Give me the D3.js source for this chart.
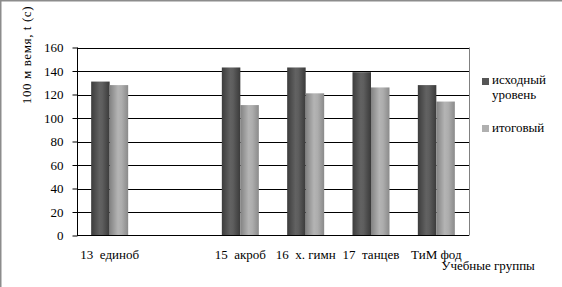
<!DOCTYPE html>
<html><head><meta charset="utf-8">
<script src="https://cdn.jsdelivr.net/npm/d3@7"></script>
<style>body{margin:0;background:#fff}svg{display:block}svg text{font-family:"Liberation Serif","Times New Roman",serif}</style>
</head><body>
<script>
const categories = ["13  единоб", "", "15  акроб", "16  х. гимн", "17  танцев", "ТиМ фод"];
const seriesNames = ["исходный уровень", "итоговый"];
const initialValues = [131, null, 143, 143, 139, 128];
const finalValues = [128, null, 111, 121, 126, 114];
const yTicks = [0, 20, 40, 60, 80, 100, 120, 140, 160];
const yTitle = "100 м вемя, t (с)";
const xTitle = "Учебные группы";

const W = 562, H = 287;
const svg = d3.select("body").append("svg").attr("width", W).attr("height", H);
const fs = 13;

const defs = svg.append("defs");
function grad(id, stops) {
  const g = defs.append("linearGradient").attr("id", id).attr("x1", "0").attr("x2", "1").attr("y1", "0").attr("y2", "0");
  stops.forEach(s => g.append("stop").attr("offset", s[0]).attr("stop-color", s[1]));
}
grad("gDark", [[0, "#3c3c3c"], [0.45, "#626262"], [0.6, "#5e5e5e"], [1, "#3a3a3a"]]);
grad("gLight", [[0, "#828282"], [0.45, "#b4b4b4"], [0.65, "#adadad"], [1, "#8a8a8a"]]);

// outer frame
svg.append("rect").attr("x", 0.5).attr("y", 0.5).attr("width", W + 5).attr("height", H + 5)
  .attr("fill", "none").attr("stroke", "#8c8c8c").attr("stroke-width", 2);

const pLeft = 77, pRight = 469, pTop = 47.5, pBottom = 235.5;
const x = d3.scaleBand().domain(d3.range(categories.length)).range([pLeft, pRight]);
const y = d3.scaleLinear().domain([0, 160]).range([pBottom, pTop]);
const barW = 18.5;

// gridlines
svg.append("g").selectAll("line").data(yTicks.filter(t => t > 0)).join("line")
  .attr("x1", pLeft).attr("x2", pRight)
  .attr("y1", d => Math.round(y(d)) + 0.5).attr("y2", d => Math.round(y(d)) + 0.5)
  .attr("stroke", "#000").attr("stroke-width", 1);

// right border
svg.append("line").attr("x1", pRight + 0.5).attr("x2", pRight + 0.5).attr("y1", pTop).attr("y2", pBottom)
  .attr("stroke", "#808080");

// bars
const series = [
  {vals: initialValues, fill: "url(#gDark)", off: -barW},
  {vals: finalValues, fill: "url(#gLight)", off: 0}
];
series.forEach(s => {
  svg.append("g").selectAll("rect").data(s.vals.map((v, i) => ({v, i})).filter(d => d.v != null)).join("rect")
    .attr("x", d => x(d.i) + x.bandwidth() / 2 + s.off)
    .attr("width", barW)
    .attr("y", d => y(d.v))
    .attr("height", d => y(0) - y(d.v))
    .attr("fill", s.fill);
});

// y axis
const yAxis = d3.axisLeft(y).tickValues(yTicks).tickSize(5).tickPadding(9).tickFormat(d3.format("d"));
const ya = svg.append("g").attr("transform", `translate(${pLeft + 0.5},0)`).call(yAxis);
ya.attr("font-family", null).attr("font-size", null);
ya.select(".domain").attr("d", `M0,${pTop}V${pBottom}`).attr("stroke", "#000");
ya.selectAll(".tick line").attr("stroke", "#000");
ya.selectAll("text").attr("font-size", fs).attr("fill", "#000");

// x axis baseline
svg.append("line").attr("x1", pLeft).attr("x2", pRight).attr("y1", pBottom).attr("y2", pBottom)
  .attr("stroke", "#000").attr("stroke-width", 1);

// x labels
const xAxis = d3.axisBottom(x).tickSize(0).tickPadding(0).tickFormat(i => categories[i]);
const xa = svg.append("g").attr("transform", `translate(0,${pBottom})`).call(xAxis);
xa.attr("font-family", null).attr("font-size", null);
xa.select(".domain").remove();
xa.selectAll("text").attr("font-size", fs).attr("fill", "#000")
  .attr("dy", null).attr("y", 23).style("white-space", "pre");

// titles
svg.append("text").attr("x", 488).attr("y", 270).attr("text-anchor", "middle")
  .attr("font-size", fs).text(xTitle);
svg.append("text").attr("transform", "translate(31,55) rotate(-90)").attr("text-anchor", "middle")
  .attr("font-size", fs).attr("letter-spacing", 0.6).text(yTitle);

// legend
const leg = svg.append("g");
leg.append("rect").attr("x", 482).attr("y", 78).attr("width", 7).attr("height", 7).attr("fill", "#555");
leg.append("text").attr("x", 492).attr("y", 84).attr("font-size", fs).text("исходный");
leg.append("text").attr("x", 492).attr("y", 99).attr("font-size", fs).text("уровень");
leg.append("rect").attr("x", 482).attr("y", 125).attr("width", 7).attr("height", 7).attr("fill", "#b0b0b0");
leg.append("text").attr("x", 492).attr("y", 132).attr("font-size", fs).text("итоговый");
</script>
</body></html>
